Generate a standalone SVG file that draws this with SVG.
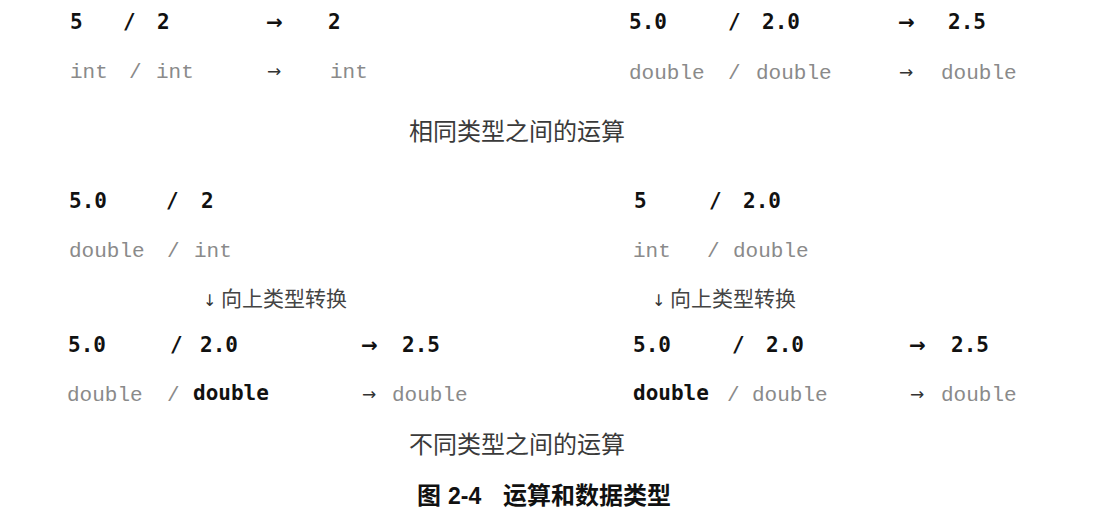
<svg xmlns="http://www.w3.org/2000/svg" width="1120" height="523" viewBox="0 0 1120 523">
<style>
.b{font-family:"DejaVu Sans Mono",monospace;font-weight:bold;font-size:21px;fill:#111}
.g{font-family:"Liberation Mono","Courier New",monospace;font-size:21px;fill:#8a8a8a}
.ab{font-family:"DejaVu Sans",sans-serif;font-weight:bold;font-size:20px;fill:#111}
.ag{font-family:"DejaVu Sans",sans-serif;font-size:17px;fill:#333}
.t{font-family:"Noto Sans CJK SC",sans-serif;font-size:24px;fill:#3a3a3a}
.c{font-family:"Noto Sans CJK SC",sans-serif;font-size:21px;fill:#444}
.d{font-family:"DejaVu Sans",sans-serif;font-size:16px;fill:#333}
.cap{font-family:"Noto Sans CJK SC",sans-serif;font-weight:bold;font-size:24px;fill:#111}
.num{font-family:"Liberation Sans",Arial,sans-serif;font-weight:bold;font-size:23px}
</style>
<rect width="1120" height="523" fill="#fff"/>
<g id="same-int">
<text class="b" x="70" y="29">5</text><text class="b" x="123" y="29">/</text><text class="b" x="157" y="29">2</text>
<text class="ab" x="266" y="29">→</text><text class="b" x="328" y="29">2</text>
<text class="g" x="70" y="78">int</text><text class="g" x="129" y="78">/</text><text class="g" x="156" y="78">int</text>
<text class="ag" x="267" y="77">→</text><text class="g" x="330" y="78">int</text>
</g>
<g id="same-double">
<text class="b" x="629" y="29">5.0</text><text class="b" x="728" y="29">/</text><text class="b" x="762" y="29">2.0</text>
<text class="ab" x="898" y="29">→</text><text class="b" x="948" y="29">2.5</text>
<text class="g" x="629" y="79">double</text><text class="g" x="728" y="79">/</text><text class="g" x="756" y="79">double</text>
<text class="ag" x="899" y="78">→</text><text class="g" x="941" y="79">double</text>
</g>
<g id="title-same"><text class="t" x="409" y="140">相同类型之间的运算</text></g>
<g id="diff-left">
<text class="b" x="69" y="208">5.0</text><text class="b" x="166" y="208">/</text><text class="b" x="201" y="208">2</text>
<text class="g" x="69" y="257">double</text><text class="g" x="167" y="257">/</text><text class="g" x="194" y="257">int</text>
<text class="c" x="203" y="306"><tspan class="d">↓</tspan><tspan x="221">向上类型转换</tspan></text>
<text class="b" x="68" y="352">5.0</text><text class="b" x="170" y="352">/</text><text class="b" x="200" y="352">2.0</text>
<text class="ab" x="361" y="352">→</text><text class="b" x="402" y="352">2.5</text>
<text class="g" x="67" y="401">double</text><text class="g" x="167" y="401">/</text><text class="b" x="193" y="400">double</text>
<text class="ag" x="362" y="400">→</text><text class="g" x="392" y="401">double</text>
</g>
<g id="diff-right">
<text class="b" x="634" y="208">5</text><text class="b" x="709" y="208">/</text><text class="b" x="743" y="208">2.0</text>
<text class="g" x="633" y="257">int</text><text class="g" x="707" y="257">/</text><text class="g" x="733" y="257">double</text>
<text class="c" x="652" y="306"><tspan class="d">↓</tspan><tspan x="670">向上类型转换</tspan></text>
<text class="b" x="633" y="352">5.0</text><text class="b" x="732" y="352">/</text><text class="b" x="766" y="352">2.0</text>
<text class="ab" x="909" y="352">→</text><text class="b" x="951" y="352">2.5</text>
<text class="b" x="633" y="400">double</text><text class="g" x="727" y="401">/</text><text class="g" x="752" y="401">double</text>
<text class="ag" x="910" y="400">→</text><text class="g" x="941" y="401">double</text>
</g>
<g id="title-diff"><text class="t" x="409" y="453">不同类型之间的运算</text></g>
<g id="caption"><text class="cap" y="504"><tspan x="417">图</tspan><tspan class="num" x="448">2-4</tspan><tspan x="503">运算和数据类型</tspan></text></g>
</svg>
